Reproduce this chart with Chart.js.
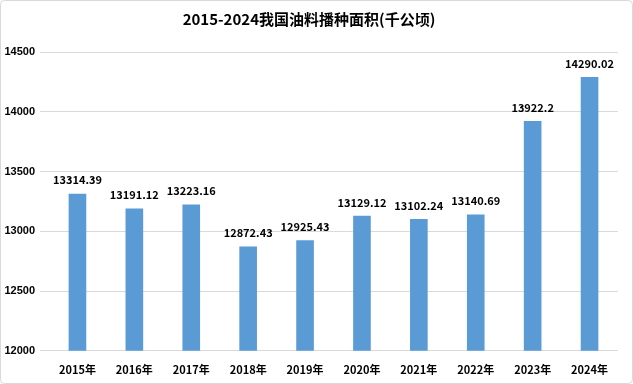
<!DOCTYPE html>
<html><head><meta charset="utf-8">
<script src="https://cdn.jsdelivr.net/npm/chart.js@4/dist/chart.umd.min.js"></script>
<style>html,body{margin:0;padding:0;background:#fff}#w{width:633px;height:384px;position:relative}</style>
</head><body><div id="w"><canvas id="c" width="633" height="384"></canvas></div>
<script>
const categories = ["2015年","2016年","2017年","2018年","2019年","2020年","2021年","2022年","2023年","2024年"];
const values = [13314.39,13191.12,13223.16,12872.43,12925.43,13129.12,13102.24,13140.69,13922.2,14290.02];
const valueLabels = ["13314.39","13191.12","13223.16","12872.43","12925.43","13129.12","13102.24","13140.69","13922.2","14290.02"];
const yTicks = [12000,12500,13000,13500,14000,14500];
const FONT = "'Noto Sans CJK SC','Liberation Sans',sans-serif";

const borderPlugin = {
  id:'border',
  beforeDraw(chart){
    const ctx = chart.ctx;
    ctx.save();
    ctx.fillStyle='#fff';
    ctx.fillRect(0,0,chart.width,chart.height);
    ctx.strokeStyle='#d9d9d9';
    ctx.lineWidth=1;
    const r=4, x=0.5, y=0.5, w=chart.width-1, h=chart.height-1;
    ctx.beginPath();
    ctx.moveTo(x+r,y);ctx.lineTo(x+w-r,y);ctx.quadraticCurveTo(x+w,y,x+w,y+r);
    ctx.lineTo(x+w,y+h-r);ctx.quadraticCurveTo(x+w,y+h,x+w-r,y+h);
    ctx.lineTo(x+r,y+h);ctx.quadraticCurveTo(x,y+h,x,y+h-r);
    ctx.lineTo(x,y+r);ctx.quadraticCurveTo(x,y,x+r,y);
    ctx.stroke();
    ctx.restore();
  }
};
const labelPlugin = {
  id:'vlabels',
  afterDatasetsDraw(chart){
    const ctx=chart.ctx;
    const meta=chart.getDatasetMeta(0);
    ctx.save();
    ctx.font="bold 11px "+FONT;
    ctx.fillStyle='#000';
    ctx.textAlign='center';
    ctx.textBaseline='bottom';
    meta.data.forEach((bar,i)=>{
      ctx.fillText(valueLabels[i], bar.x, bar.y-8);
    });
    ctx.restore();
  }
};

new Chart(document.getElementById('c'),{
  type:'bar',
  data:{labels:categories,datasets:[{data:values,backgroundColor:'#5b9bd5',barPercentage:0.62,categoryPercentage:0.5}]},
  options:{
    responsive:false,animation:false,
    layout:{padding:{left:0,right:15,top:0,bottom:4}},
    plugins:{
      legend:{display:false},tooltip:{enabled:false},
      title:{display:true,text:'2015-2024我国油料播种面积(千公顷)',color:'#000',font:{family:FONT,size:15,weight:'bold'},padding:{top:10,bottom:24}}
    },
    scales:{
      x:{grid:{display:false},border:{display:false},
         ticks:{color:'#000',font:{family:FONT,size:11,weight:'bold'},padding:4,maxRotation:0}},
      y:{min:12000,max:14500,
         afterBuildTicks(s){s.ticks=yTicks.map(v=>({value:v}));},
         afterFit(s){s.width=49;},
         grid:{color:'#d9d9d9',drawTicks:true,tickLength:9},
         border:{display:false},
         ticks:{color:'#000',font:{family:"'Liberation Sans',sans-serif",size:11,weight:'bold'},padding:5,callback:(v)=>String(v)}}
    }
  },
  plugins:[borderPlugin,labelPlugin]
});
</script></body></html>
